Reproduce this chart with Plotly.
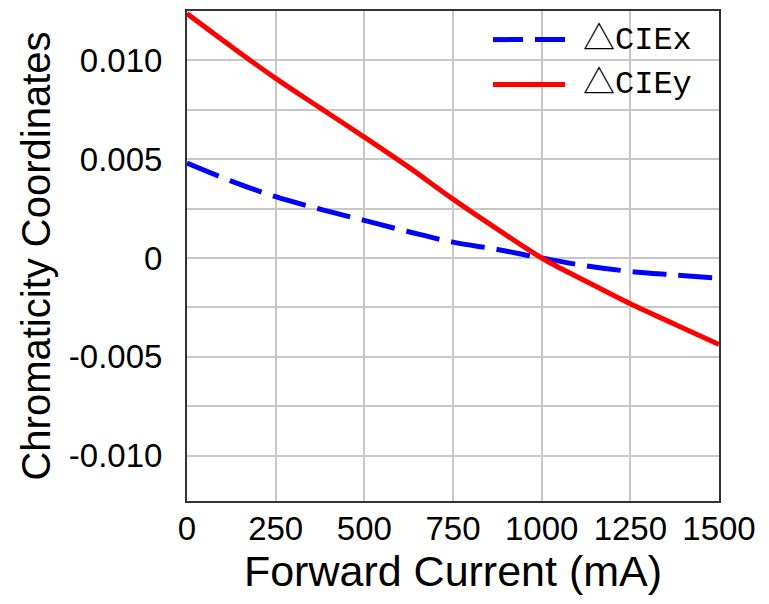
import plotly.graph_objects as go

# Data
current_x = [0, 125, 250, 375, 500, 625, 750, 875, 1000, 1125, 1250, 1375, 1500]
delta_cie_x = [0.0048, 0.00389, 0.0031, 0.00247, 0.0019, 0.00133, 0.0008, 0.00043, 0.0, -0.0004, -0.00068, -0.00086, -0.00103]

current_y = [0, 125, 250, 375, 500, 620, 750, 855, 1000, 1125, 1250, 1375, 1500]
delta_cie_y = [0.01237, 0.0107, 0.00909, 0.0076, 0.00612, 0.00466, 0.00298, 0.0017, 0.0, -0.00118, -0.00232, -0.00335, -0.00438]

x_ticks = [0, 250, 500, 750, 1000, 1250, 1500]
y_ticks = [-0.010, -0.005, 0.0, 0.005, 0.010]
y_ticktext = ["-0.010", "-0.005", "0", "0.005", "0.010"]

series_names = ["\u25b3CIEx", "\u25b3CIEy"]

W, H = 769, 604
L, R, T, B = 187, 50, 9, 103
pw, ph = W - L - R, H - T - B

def px(xp):
    return (xp - L) / pw

def py(yp):
    return (H - B - yp) / ph

fig = go.Figure()
fig.add_trace(go.Scatter(x=current_x, y=delta_cie_x, mode="lines", name=series_names[0],
                         line=dict(color="#0000ff", width=5, dash="34px,12px", shape="spline")))
fig.add_trace(go.Scatter(x=current_y, y=delta_cie_y, mode="lines", name=series_names[1],
                         line=dict(color="#ff0000", width=5, shape="spline")))

grid = "#c8c8c8"
fig.update_xaxes(range=[0, 1500], tickvals=x_ticks, showgrid=True, gridcolor=grid, gridwidth=1.5,
                 zeroline=False, showline=True, mirror=True, linecolor="#333333", linewidth=2,
                 ticks="", ticklabelstandoff=-3,
                 tickfont=dict(family="Liberation Sans, Arial", size=33, color="#000"),
                 title=dict(text="Forward Current (mA)", standoff=10,
                            font=dict(family="Liberation Sans, Arial", size=43, color="#000")))
fig.update_yaxes(range=[-0.0123, 0.0125], tickvals=y_ticks, ticktext=y_ticktext,
                 showgrid=True, gridcolor=grid, gridwidth=1.5,
                 minor=dict(dtick=0.0025, tick0=0, showgrid=True, gridcolor=grid, gridwidth=1.5),
                 zeroline=False, showline=True, mirror=True, linecolor="#333333", linewidth=2,
                 ticks="", ticklabelstandoff=16,
                 tickfont=dict(family="Liberation Sans, Arial", size=33, color="#000"),
                 title=dict(text="Chromaticity Coordinates", standoff=6,
                            font=dict(family="Liberation Sans, Arial", size=40, color="#000")))

# Manual legend (sample lines + labels)
leg_x0, leg_x1 = px(493), px(565)
fig.add_shape(type="line", xref="paper", yref="paper", x0=leg_x0, x1=leg_x1, y0=py(37.7), y1=py(37.7),
              line=dict(color="#0000ff", width=5, dash="30px,12px"))
fig.add_shape(type="line", xref="paper", yref="paper", x0=leg_x0, x1=leg_x1, y0=py(82.7), y1=py(82.7),
              line=dict(color="#ff0000", width=5))
for name, yc in zip(series_names, [38.5, 82.5]):
    fig.add_annotation(xref="paper", yref="paper", x=px(581), y=py(yc), xanchor="left", yanchor="middle",
                       text=name, showarrow=False,
                       font=dict(family="Liberation Mono, Noto Sans CJK SC", size=32, color="#000"))

fig.update_layout(width=W, height=H, margin=dict(l=L, r=R, t=T, b=B),
                  plot_bgcolor="white", paper_bgcolor="white", showlegend=False)

fig.write_html("out.html")
